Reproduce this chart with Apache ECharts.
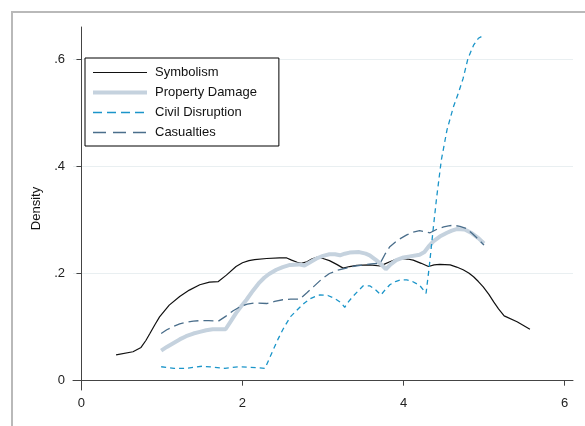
<!DOCTYPE html>
<html>
<head>
<meta charset="utf-8">
<script src="https://cdn.jsdelivr.net/npm/echarts@6/dist/echarts.min.js"></script>
<style>
  html, body { margin: 0; padding: 0; background: #fff; }
  #chart { width: 585px; height: 426px; }
</style>
</head>
<body>
<div id="chart"></div>
<script>
// Kernel density estimates, [x, density]
const symbolism = [
  [0.43,0.048],[0.64,0.054],[0.74,0.062],[0.80,0.075],[0.85,0.088],[0.91,0.104],
  [0.97,0.119],[1.09,0.141],[1.22,0.157],[1.34,0.169],[1.47,0.179],[1.59,0.184],
  [1.70,0.185],[1.80,0.197],[1.92,0.213],[2.00,0.220],[2.08,0.224],[2.15,0.226],
  [2.30,0.228],[2.46,0.229],[2.55,0.229],[2.61,0.225],[2.68,0.221],[2.73,0.219],
  [2.80,0.222],[2.86,0.227],[2.92,0.230],[3.00,0.228],[3.08,0.224],[3.17,0.217],
  [3.25,0.210],[3.33,0.213],[3.42,0.215],[3.58,0.216],[3.71,0.214],[3.77,0.218],
  [3.83,0.222],[3.90,0.226],[3.96,0.228],[4.05,0.227],[4.12,0.225],[4.22,0.219],
  [4.31,0.213],[4.38,0.216],[4.45,0.217],[4.58,0.216],[4.66,0.212],[4.74,0.207],
  [4.81,0.201],[4.87,0.194],[4.93,0.185],[4.99,0.175],[5.06,0.161],[5.12,0.147],
  [5.18,0.134],[5.25,0.121],[5.41,0.110],[5.57,0.096]
];
const propertyDamage = [
  [0.99,0.056],[1.06,0.063],[1.14,0.070],[1.22,0.077],[1.30,0.083],[1.39,0.088],
  [1.47,0.091],[1.55,0.094],[1.63,0.096],[1.79,0.096],[1.86,0.112],[1.92,0.126],
  [1.99,0.140],[2.05,0.151],[2.13,0.168],[2.21,0.183],[2.27,0.192],[2.33,0.199],
  [2.42,0.207],[2.50,0.212],[2.59,0.216],[2.70,0.217],[2.77,0.215],[2.85,0.222],
  [2.92,0.228],[3.00,0.233],[3.08,0.236],[3.15,0.236],[3.21,0.234],[3.27,0.237],
  [3.33,0.239],[3.45,0.240],[3.53,0.237],[3.58,0.234],[3.66,0.225],[3.71,0.219],
  [3.78,0.208],[3.84,0.217],[3.91,0.225],[4.00,0.230],[4.08,0.232],[4.20,0.235],
  [4.26,0.240],[4.31,0.250],[4.37,0.260],[4.45,0.269],[4.54,0.276],[4.60,0.280],
  [4.66,0.283],[4.76,0.282],[4.85,0.275],[4.93,0.266],[5.00,0.256]
];
const civilDisruption = [
  [0.99,0.026],[1.15,0.023],[1.30,0.023],[1.50,0.027],[1.65,0.025],[1.78,0.023],
  [1.95,0.026],[2.10,0.025],[2.28,0.023],[2.33,0.040],[2.38,0.057],[2.44,0.077],
  [2.50,0.095],[2.55,0.108],[2.60,0.120],[2.70,0.135],[2.77,0.145],[2.84,0.153],
  [2.90,0.157],[2.96,0.160],[3.06,0.159],[3.15,0.153],[3.22,0.146],[3.27,0.137],
  [3.32,0.148],[3.37,0.157],[3.44,0.168],[3.50,0.177],[3.58,0.177],[3.65,0.170],
  [3.72,0.160],[3.78,0.171],[3.83,0.179],[3.90,0.185],[3.96,0.188],[4.04,0.188],
  [4.10,0.186],[4.20,0.178],[4.28,0.163],[4.32,0.213],[4.37,0.285],[4.41,0.340],
  [4.47,0.412],[4.54,0.468],[4.62,0.511],[4.68,0.536],[4.74,0.564],[4.80,0.601],
  [4.87,0.626],[4.93,0.639],[4.99,0.644]
];
const casualties = [
  [0.99,0.088],[1.06,0.095],[1.14,0.101],[1.22,0.106],[1.30,0.109],[1.39,0.111],
  [1.47,0.112],[1.58,0.112],[1.70,0.111],[1.80,0.121],[1.88,0.130],[1.97,0.138],
  [2.06,0.143],[2.15,0.145],[2.30,0.144],[2.40,0.148],[2.50,0.151],[2.60,0.152],
  [2.71,0.152],[2.80,0.164],[2.88,0.175],[2.98,0.189],[3.08,0.200],[3.18,0.206],
  [3.29,0.210],[3.40,0.214],[3.50,0.216],[3.60,0.218],[3.71,0.219],[3.77,0.236],
  [3.83,0.250],[3.90,0.259],[3.96,0.265],[4.04,0.272],[4.12,0.277],[4.20,0.280],
  [4.33,0.276],[4.42,0.283],[4.50,0.287],[4.56,0.289],[4.62,0.290],[4.70,0.288],
  [4.78,0.284],[4.85,0.275],[4.90,0.268],[5.00,0.253]
];
const seriesNames = ['Symbolism', 'Property Damage', 'Civil Disruption', 'Casualties'];
const xTicks = [0, 2, 4, 6];
const yTicks = [0, 0.2, 0.4, 0.6];

// line look per series; legend keys use a longer dash so the pattern reads at key size
const styles = [
  { color: '#111111', width: 1.2, type: 'solid', keyType: 'solid' },
  { color: '#c5d2de', width: 4, type: 'solid', keyType: 'solid' },
  { color: '#1b95c9', width: 1.3, type: [5, 4], keyType: [9, 5] },
  { color: '#4a6e8b', width: 1.3, type: [10, 5], keyType: [13, 7] }
];
const seriesData = [symbolism, propertyDamage, civilDisruption, casualties];

const fmtY = v => (v === 0 ? '0' : String(v).replace(/^0/, ''));
const font = 'Liberation Sans, Arial, sans-serif';

const chart = echarts.init(document.getElementById('chart'), null, { renderer: 'canvas' });
chart.setOption({
  animation: false,
  backgroundColor: '#ffffff',
  textStyle: { fontFamily: font },
  graphic: [{
    type: 'polyline',
    shape: { points: [[12, 426], [12, 12], [585, 12]] },
    style: { stroke: '#b9b9b9', lineWidth: 2, fill: null },
    silent: true
  }],
  grid: { left: 73, right: 12, top: 27, bottom: 36, containLabel: false },
  legend: {
    left: 85, top: 58, orient: 'vertical',
    data: seriesNames.map((name, i) => ({
      name,
      lineStyle: { color: styles[i].color, width: styles[i].width, type: styles[i].keyType }
    })),
    itemWidth: 54, itemHeight: 14, itemGap: 7,
    itemStyle: { opacity: 0 },
    padding: [8, 22, 7, 6],
    borderColor: '#000', borderWidth: 1, backgroundColor: '#fff',
    textStyle: { fontSize: 13, color: '#111', fontFamily: font, padding: [0, 0, 0, 3] }
  },
  xAxis: {
    type: 'value', min: -0.105, max: 6.105,
    axisLine: { show: true, lineStyle: { color: '#444', width: 1 } },
    axisTick: { show: true, length: 5, lineStyle: { color: '#444' }, customValues: xTicks },
    axisLabel: { customValues: xTicks, margin: 7, fontSize: 13, color: '#222', fontFamily: font },
    splitLine: { show: false }
  },
  yAxis: {
    type: 'value', min: -0.0174, max: 0.66,
    name: 'Density', nameLocation: 'middle', nameGap: 29,
    nameTextStyle: { fontSize: 13, color: '#111', fontFamily: font },
    axisLine: { show: true, lineStyle: { color: '#444', width: 1 } },
    axisTick: { show: true, length: 5, lineStyle: { color: '#444' }, customValues: yTicks },
    axisLabel: { customValues: yTicks, margin: 8, fontSize: 13, color: '#222', fontFamily: font, formatter: fmtY },
    splitLine: { show: true, lineStyle: { color: '#e9eff1', width: 1 } }
  },
  series: seriesNames.map((name, i) => ({
    name, type: 'line', data: seriesData[i], symbol: 'none', smooth: false,
    lineStyle: { color: styles[i].color, width: styles[i].width, type: styles[i].type },
    itemStyle: { color: styles[i].color }
  }))
});
</script>
</body>
</html>
